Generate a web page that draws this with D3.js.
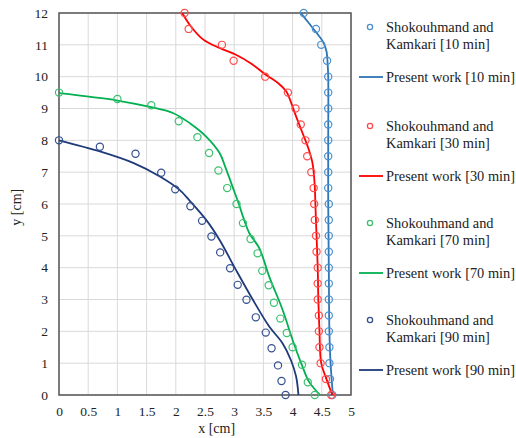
<!DOCTYPE html>
<html>
<head>
<meta charset="utf-8">
<script src="https://cdn.jsdelivr.net/npm/d3@7"></script>
<style>
  body { margin: 0; background: #fff; }
  svg text { font-family: "Liberation Serif", "Times New Roman", serif; fill: #222; }
</style>
</head>
<body>
<div id="chart"></div>
<script>
// experimental points (Shokouhmand and Kamkari), [x, y] in cm
const exp10 = [[4.19,12],[4.40,11.5],[4.49,11],[4.59,10.5],[4.61,10],[4.61,9.5],[4.61,9],[4.61,8.5],[4.61,8],[4.61,7.5],[4.61,7],[4.61,6.5],[4.62,6],[4.62,5.5],[4.62,5],[4.62,4.5],[4.62,4],[4.62,3.5],[4.62,3],[4.62,2.5],[4.62,2],[4.63,1.5],[4.63,1],[4.64,0.5],[4.68,0]]
const exp30 = [[2.15,12],[2.22,11.5],[2.79,11],[2.99,10.5],[3.53,10],[3.92,9.5],[4.05,9],[4.14,8.5],[4.22,8],[4.25,7.5],[4.32,7],[4.36,6.5],[4.37,6],[4.38,5.5],[4.40,5],[4.41,4.5],[4.43,4],[4.43,3.5],[4.43,3],[4.45,2.5],[4.45,2],[4.46,1.5],[4.48,1],[4.57,0.5],[4.66,0]]
const exp70 = [[0,9.5],[1.0,9.3],[1.58,9.1],[2.05,8.6],[2.37,8.1],[2.57,7.6],[2.73,7.05],[2.88,6.5],[3.04,6.0],[3.15,5.4],[3.28,4.9],[3.40,4.45],[3.48,3.9],[3.59,3.45],[3.68,2.9],[3.79,2.4],[3.90,1.95],[4.0,1.5],[4.16,0.95],[4.26,0.4],[4.38,0]]
const exp90 = [[0,8],[0.70,7.8],[1.31,7.58],[1.75,6.98],[1.99,6.46],[2.25,5.93],[2.45,5.47],[2.61,4.98],[2.76,4.48],[2.93,3.98],[3.06,3.46],[3.21,2.99],[3.37,2.44],[3.54,1.96],[3.64,1.47],[3.75,0.93],[3.81,0.44],[3.88,0]]

// present work (numerical) curves
const num10 = [[4.14,12],[4.27,11.7],[4.40,11.4],[4.52,11.1],[4.58,10.8],[4.60,10.4],[4.61,10],[4.61,8],[4.61,6],[4.62,4],[4.63,2],[4.65,1],[4.69,0]]
const num30 = [[2.11,12],[2.25,11.6],[2.46,11.18],[2.75,10.9],[3.03,10.69],[3.30,10.4],[3.54,10.06],[3.75,9.8],[3.89,9.54],[3.93,9.4],[4.05,8.8],[4.17,8.23],[4.27,7.75],[4.34,7.29],[4.38,6.55],[4.39,6],[4.41,5],[4.43,4],[4.44,3],[4.46,2],[4.49,1],[4.58,0.5],[4.68,0]]
const num70 = [[0,9.48],[1.0,9.25],[1.58,9.04],[1.95,8.86],[2.24,8.54],[2.52,8.12],[2.75,7.6],[2.85,7.15],[3.0,6.4],[3.08,6.0],[3.17,5.5],[3.26,5.08],[3.43,4.61],[3.60,3.72],[3.83,2.67],[4.0,1.73],[4.17,0.89],[4.28,0.42],[4.47,0]]
const num90 = [[0,8],[0.70,7.65],[1.27,7.29],[1.72,6.87],[2.06,6.45],[2.24,6.1],[2.52,5.5],[2.75,4.87],[3.03,3.93],[3.32,2.99],[3.60,2.15],[3.83,1.62],[3.97,1.1],[4.06,0.58],[4.10,0]]

const xTicks = [0, 0.5, 1, 1.5, 2, 2.5, 3, 3.5, 4, 4.5, 5]
const yTicks = [0, 1, 2, 3, 4, 5, 6, 7, 8, 9, 10, 11, 12]

const series = [
  {name: '10 min', exp: exp10, num: num10, line: '#2E75B6', marker: '#4A90D0'},
  {name: '30 min', exp: exp30, num: num30, line: '#FF0000', marker: '#FF4B4B'},
  {name: '70 min', exp: exp70, num: num70, line: '#00B050', marker: '#3CC070'},
  {name: '90 min', exp: exp90, num: num90, line: '#1F3A7A', marker: '#34508F'}
]

const width = 516, height = 438
const margin = {top: 13, left: 59, right: 165, bottom: 43}
const pw = width - margin.left - margin.right
const ph = height - margin.top - margin.bottom

const svg = d3.select('#chart').append('svg')
  .attr('width', width).attr('height', height)

const g = svg.append('g')
  .attr('transform', 'translate(' + margin.left + ',' + margin.top + ')')

const x = d3.scaleLinear().domain([0, 5]).range([0, pw])
const y = d3.scaleLinear().domain([0, 12]).range([ph, 0])

// grid
g.append('g').selectAll('line').data(xTicks).enter().append('line')
  .attr('x1', d => x(d)).attr('x2', d => x(d))
  .attr('y1', 0).attr('y2', ph)
  .attr('stroke', '#d9d9d9').attr('stroke-width', 1)
g.append('g').selectAll('line').data(yTicks).enter().append('line')
  .attr('x1', 0).attr('x2', pw)
  .attr('y1', d => y(d)).attr('y2', d => y(d))
  .attr('stroke', '#d9d9d9').attr('stroke-width', 1)

// axes, ticks hidden, labels only
const xAxis = g.append('g')
  .attr('transform', 'translate(0,' + ph + ')')
  .call(d3.axisBottom(x).tickValues(xTicks).tickSize(0).tickPadding(11).tickFormat(d3.format('')))
const yAxis = g.append('g')
  .call(d3.axisLeft(y).tickValues(yTicks).tickSize(0).tickPadding(11).tickFormat(d3.format('')))
;[xAxis, yAxis].forEach(a => {
  a.attr('font-family', null).attr('font-size', null)
  a.select('.domain').remove()
  a.selectAll('text').style('font-family', '"Liberation Serif", serif')
    .style('font-size', '13.5px').style('fill', '#222')
})

// frame
g.append('rect').attr('width', pw).attr('height', ph)
  .attr('fill', 'none').attr('stroke', '#555').attr('stroke-width', 1.5)

const line = d3.line()
  .x(d => x(d[0])).y(d => y(d[1]))
  .curve(d3.curveCatmullRom.alpha(0.5))

series.forEach(s => {
  g.append('path').datum(s.num)
    .attr('d', line)
    .attr('fill', 'none').attr('stroke', s.line).attr('stroke-width', 1.8)
  g.append('g').selectAll('circle').data(s.exp).enter().append('circle')
    .attr('cx', d => x(d[0])).attr('cy', d => y(d[1])).attr('r', 3.6)
    .attr('fill', 'none').attr('stroke', s.marker).attr('stroke-width', 1.2)
})

// axis titles
svg.append('text').attr('x', margin.left + x(2.7)).attr('y', 433)
  .attr('text-anchor', 'middle').attr('font-size', 14).text('x [cm]')
svg.append('text')
  .attr('transform', 'translate(21,' + (margin.top + y(5.9)) + ') rotate(-90)')
  .attr('text-anchor', 'middle').attr('font-size', 14).text('y [cm]')

// legend
const legend = svg.append('g')
const legendTop = [27, 126, 223, 320]
series.forEach((s, i) => {
  const ly = legendTop[i]
  legend.append('circle').attr('cx', 370).attr('cy', ly).attr('r', 2.6)
    .attr('fill', 'none').attr('stroke', s.marker).attr('stroke-width', 1.3)
  legend.append('text').attr('x', 386).attr('y', ly + 5).attr('font-size', 14.4)
    .text('Shokouhmand and')
  legend.append('text').attr('x', 386).attr('y', ly + 22).attr('font-size', 14.4)
    .text('Kamkari [' + s.name + ']')
  legend.append('line').attr('x1', 359).attr('x2', 383)
    .attr('y1', ly + 50).attr('y2', ly + 50)
    .attr('stroke', s.line).attr('stroke-width', 1.8)
  legend.append('text').attr('x', 386).attr('y', ly + 55).attr('font-size', 14.4)
    .text('Present work [' + s.name + ']')
})
</script>
</body>
</html>
